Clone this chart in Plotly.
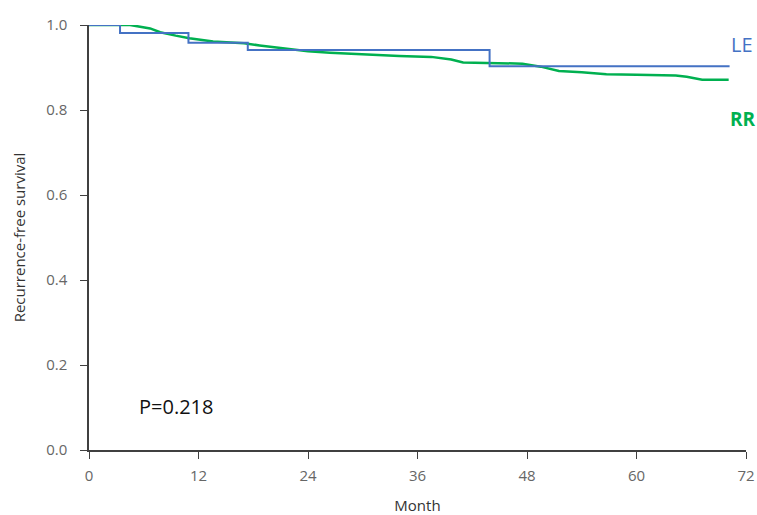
import plotly.graph_objects as go

# LE Kaplan-Meier steps
le_month = [0, 3.4, 3.4, 10.9, 10.9, 17.4, 17.4, 43.9, 43.9, 70.2]
le_surv = [1.0, 1.0, 0.981, 0.981, 0.958, 0.958, 0.941, 0.941, 0.903, 0.903]

# RR curve
rr_month = [0, 4.5, 6.7, 7.8, 9.5, 11.0, 13.6, 17.0, 18.7, 20.5, 22.0, 24.0, 26.4, 30.0, 34.0, 37.5,
            39.7, 41.0, 44.0, 47.5, 49.5, 51.5, 54.0, 56.7, 60.0, 64.3, 65.5, 67.2, 70.1]
rr_surv = [1.0, 1.0, 0.992, 0.983, 0.975, 0.969, 0.961, 0.957, 0.952, 0.947, 0.943, 0.938, 0.935, 0.931, 0.927, 0.925,
           0.919, 0.912, 0.910, 0.909, 0.902, 0.892, 0.889, 0.884, 0.883, 0.881, 0.878, 0.871, 0.871]

x_ticks = [0, 12, 24, 36, 48, 60, 72]
y_ticks = [0.0, 0.2, 0.4, 0.6, 0.8, 1.0]

BLUE = "#4472C4"
GREEN = "#00B050"
FONT = "Open Sans"

fig = go.Figure()
fig.add_trace(go.Scatter(x=rr_month, y=rr_surv, mode="lines",
                         line=dict(color=GREEN, width=2.5), name="RR", cliponaxis=False))
fig.add_trace(go.Scatter(x=le_month, y=le_surv, mode="lines",
                         line=dict(color=BLUE, width=2), name="LE", cliponaxis=False))

fig.add_annotation(xref="paper", yref="y", x=0.974, y=0.955, text="LE", showarrow=False, xanchor="left",
                   font=dict(family=FONT, size=20, color=BLUE))
fig.add_annotation(xref="paper", yref="y", x=0.972, y=0.778, text="<b>RR</b>", showarrow=False, xanchor="left",
                   font=dict(family=FONT, size=19, color=GREEN))
fig.add_annotation(x=5.3, y=0.103, text="P=0.218", showarrow=False, xanchor="left",
                   font=dict(family=FONT, size=20, color="#111111"))

fig.update_layout(
    width=757, height=515,
    margin=dict(l=89, r=11, t=25, b=65),
    paper_bgcolor="white", plot_bgcolor="white",
    showlegend=False,
    font=dict(family=FONT, color="#595959", size=15),
)
fig.update_xaxes(range=[0, 72], tickvals=x_ticks, ticktext=[str(v) for v in x_ticks],
                 showgrid=False, zeroline=False, showline=True, linecolor="#404040", linewidth=1.5,
                 ticks="outside", ticklen=7, tickcolor="#404040", automargin=False, ticklabelstandoff=4,
                 title=dict(text="Month", font=dict(size=15, color="#333333"), standoff=26),
                 tickfont=dict(size=15, color="#666666"))
fig.update_yaxes(range=[0, 1.0], tickvals=y_ticks, ticktext=[f"{v:.1f}" for v in y_ticks],
                 showgrid=False, zeroline=False, showline=True, linecolor="#404040", linewidth=1.5,
                 ticks="outside", ticklen=7, tickcolor="#404040", automargin=False, ticklabelstandoff=10,
                 title=dict(text="Recurrence-free survival", font=dict(size=15, color="#333333"), standoff=17),
                 tickfont=dict(size=15, color="#666666"))

fig.write_html("out.html", config={"displayModeBar": False},
               post_script="document.body.style.margin='0px';")
